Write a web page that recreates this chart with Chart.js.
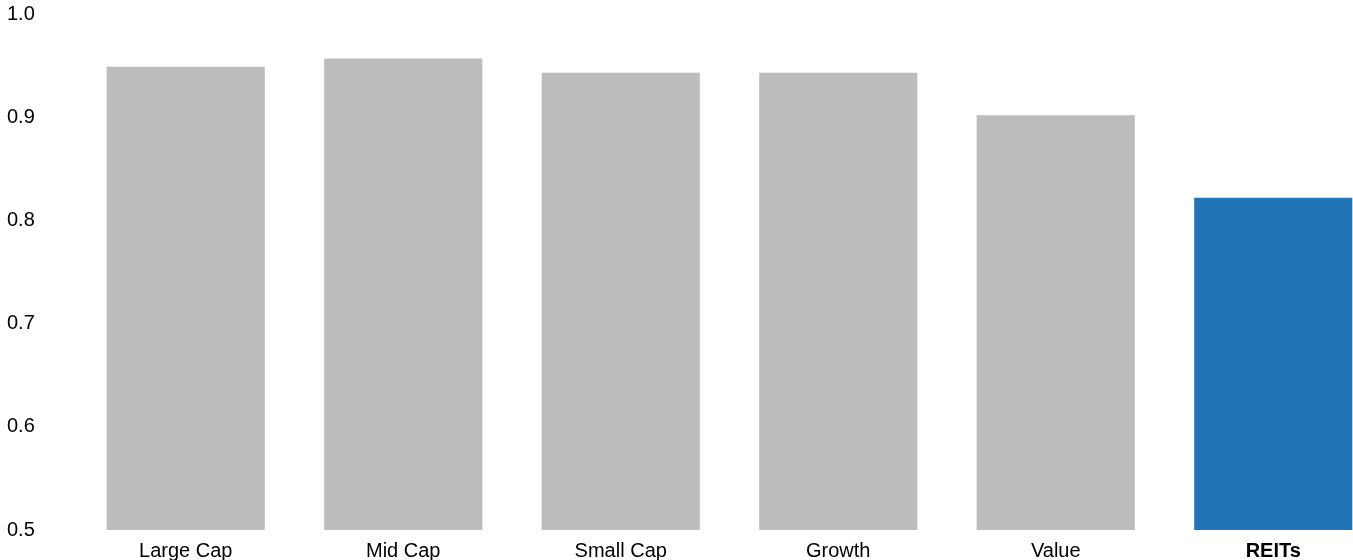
<!DOCTYPE html>
<html>
<head>
<meta charset="utf-8">
<script src="https://cdn.jsdelivr.net/npm/chart.js@4/dist/chart.umd.min.js"></script>
<style>
  html, body { margin: 0; padding: 0; background: #ffffff; overflow: hidden; }
  #wrap { position: absolute; left: 0; top: 0; width: 1382px; height: 572px; }
</style>
</head>
<body>
<div id="wrap"><canvas id="c"></canvas></div>
<script>
const categories = ["Large Cap", "Mid Cap", "Small Cap", "Growth", "Value", "REITs"];
const values = [0.949, 0.957, 0.943, 0.943, 0.902, 0.822];
const barColors = ["#bcbcbc", "#bcbcbc", "#bcbcbc", "#bcbcbc", "#bcbcbc", "#2274b8"];
const yTicks = [0.5, 0.6, 0.7, 0.8, 0.9, 1.0];
const highlightIndex = 5;

new Chart(document.getElementById('c'), {
  type: 'bar',
  data: {
    labels: categories,
    datasets: [{
      data: values,
      backgroundColor: barColors,
      borderWidth: 0,
      categoryPercentage: 1.0,
      barPercentage: 0.727
    }]
  },
  options: {
    responsive: true,
    maintainAspectRatio: false,
    animation: false,
    devicePixelRatio: 1,
    layout: { padding: { top: 14, left: 7, right: 0, bottom: 0 } },
    plugins: { legend: { display: false }, tooltip: { enabled: false } },
    scales: {
      x: {
        grid: { display: false, drawTicks: false },
        border: { display: false },
        ticks: {
          padding: 9,
          color: '#000000',
          maxRotation: 0,
          autoSkip: false,
          font: (ctx) => ({
            family: '"Liberation Sans", Arial, sans-serif',
            size: 20,
            weight: ctx.index === highlightIndex ? 'bold' : 'normal'
          })
        }
      },
      y: {
        min: 0.5,
        max: 1.0,
        afterBuildTicks: (scale) => { scale.ticks = yTicks.map(v => ({ value: v })); },
        afterFit: (scale) => { scale.width = 70; },
        grid: { display: false, drawTicks: false },
        border: { display: false },
        ticks: {
          crossAlign: 'far',
          padding: 0,
          color: '#000000',
          font: { family: '"Liberation Sans", Arial, sans-serif', size: 20 },
          callback: (v) => Number(v).toFixed(1)
        }
      }
    }
  }
});
</script>
</body>
</html>
